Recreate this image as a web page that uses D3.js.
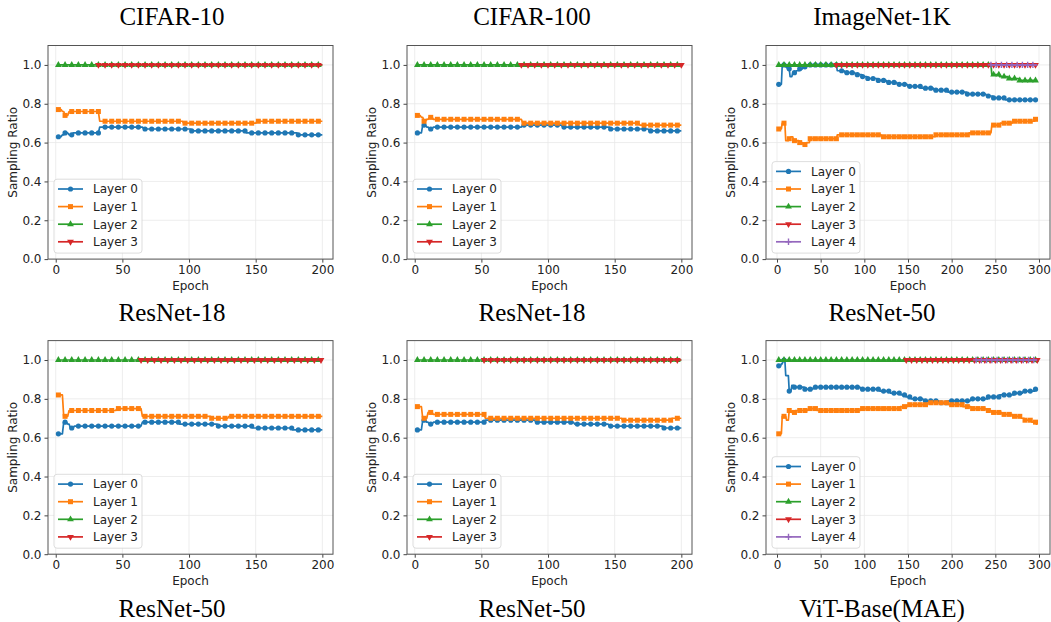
<!DOCTYPE html>
<html>
<head>
<meta charset="utf-8">
<script src="https://cdn.jsdelivr.net/npm/d3@7"></script>
<style>
body { margin: 0; background: #fff; }
text { font-family: "DejaVu Sans", sans-serif; }
</style>
</head>
<body>
<svg id="fig" width="1051" height="622"></svg>
<script>
// step runs: [first epoch, sampling ratio], value holds until the next run starts
const c10r18_l0 = [[2,.63],[5,.64],[7,.65],[10,.64],[13,.65],[33,.68],[66,.67],[102,.66],[143,.65],[182,.64]]
const c10r18_l1 = [[2,.77],[5,.76],[7,.74],[10,.76],[33,.71],[96,.70],[151,.71]]
const c10r18_l2 = [[2,1.0]]
const c10r18_l3 = [[32,1.0]]

const c100r18_l0 = [[2,.65],[6,.69],[9,.68],[11,.67],[14,.68],[81,.69],[111,.68],[147,.67],[176,.66]]
const c100r18_l1 = [[2,.74],[5,.73],[7,.71],[9,.72],[11,.73],[14,.72],[81,.70],[169,.69]]
const c100r18_l2 = [[2,1.0]]
const c100r18_l3 = [[80,1.0]]

const in1kr50_l0 = [[2,.90],[6,1.0],[10,.99],[12,.98],[15,.94],[18,.96],[22,.97],[26,.98],[30,.99],[34,1.0],
  [69,.97],[78,.96],[90,.95],[98,.94],[104,.93],[116,.92],[126,.91],[138,.90],[150,.89],[165,.88],
  [180,.87],[196,.86],[218,.85],[240,.84],[248,.83],[262,.82]]
const in1kr50_l1 = [[2,.67],[6,.70],[10,.61],[14,.62],[16,.63],[19,.61],[26,.60],[30,.59],[34,.60],[38,.62],
  [69,.64],[120,.63],[182,.64],[220,.65],[246,.69],[256,.70],[270,.71],[296,.72]]
const in1kr50_l2 = [[2,1.0],[246,.95],[255,.94],[265,.93],[278,.92]]
const in1kr50_l3 = [[68,1.0]]
const in1kr50_l4 = [[245,1.0]]

const c10r50_l0 = [[2,.62],[6,.68],[9,.67],[11,.65],[14,.66],[65,.68],[93,.67],[122,.66],[148,.65],[178,.64]]
const c10r50_l1 = [[2,.82],[6,.71],[10,.74],[46,.75],[65,.71],[117,.70],[130,.71]]
const c10r50_l2 = [[2,1.0]]
const c10r50_l3 = [[64,1.0]]

const c100r50_l0 = [[2,.64],[6,.69],[9,.68],[11,.67],[14,.68],[53,.69],[91,.68],[120,.67],[146,.66],[187,.65]]
const c100r50_l1 = [[2,.76],[6,.70],[10,.73],[14,.72],[53,.70],[156,.69],[193,.70]]
const c100r50_l2 = [[2,1.0]]
const c100r50_l3 = [[52,1.0]]

const vitmae_l0 = [[2,.97],[5,.98],[7,1.0],[10,.92],[14,.84],[17,.87],[20,.86],[32,.85],[42,.86],[96,.85],
  [118,.84],[130,.83],[142,.82],[148,.81],[154,.80],[168,.79],[186,.78],[196,.79],[222,.80],[242,.81],
  [255,.82],[272,.83],[282,.84],[296,.85]]
const vitmae_l1 = [[2,.62],[6,.71],[11,.69],[14,.74],[17,.73],[21,.74],[36,.75],[46,.74],[96,.75],[141,.76],
  [150,.77],[173,.78],[197,.77],[213,.76],[223,.75],[240,.74],[246,.73],[258,.72],[270,.71],[280,.70],
  [284,.69],[292,.68],[297,.67]]
const vitmae_l2 = [[2,1.0],[297,.99]]
const vitmae_l3 = [[148,1.0]]
const vitmae_l4 = [[228,1.0]]

const datasets = ["CIFAR-10", "CIFAR-100", "ImageNet-1K"]
const models = [["ResNet-18", "ResNet-18", "ResNet-50"], ["ResNet-50", "ResNet-50", "ViT-Base(MAE)"]]
const layerNames = ["Layer 0", "Layer 1", "Layer 2", "Layer 3", "Layer 4"]
const layerColors = ["#1f77b4", "#ff7f0e", "#2ca02c", "#d62728", "#9467bd"]
const yTicks = [0, 0.2, 0.4, 0.6, 0.8, 1.0]
const xTicks200 = [0, 50, 100, 150, 200]
const xTicks300 = [0, 50, 100, 150, 200, 250, 300]

const panels = [
  { row: 0, col: 0, end: 200, series: [c10r18_l0, c10r18_l1, c10r18_l2, c10r18_l3] },
  { row: 0, col: 1, end: 200, series: [c100r18_l0, c100r18_l1, c100r18_l2, c100r18_l3] },
  { row: 0, col: 2, end: 298, series: [in1kr50_l0, in1kr50_l1, in1kr50_l2, in1kr50_l3, in1kr50_l4] },
  { row: 1, col: 0, end: 200, series: [c10r50_l0, c10r50_l1, c10r50_l2, c10r50_l3] },
  { row: 1, col: 1, end: 200, series: [c100r50_l0, c100r50_l1, c100r50_l2, c100r50_l3] },
  { row: 1, col: 2, end: 298, series: [vitmae_l0, vitmae_l1, vitmae_l2, vitmae_l3, vitmae_l4] },
]

const svg = d3.select("#fig")
const colLeft = [48, 407, 766]
const colCenter = [172, 532, 882]
const rowTop = [45.5, 340.6]
const plotW = 285, plotH = 213.6
const fs = "12px"

const expand = (runs, end) => {
  const pts = []
  runs.forEach((r, i) => {
    const stop = i < runs.length - 1 ? runs[i + 1][0] : end + 1
    for (let e = r[0]; e < stop; e++) pts.push({ e, v: r[1] })
  })
  return pts
}

const drawMarker = (g, k, color) => {
  if (k === 0) {
    g.append("circle").attr("r", 2.6).attr("fill", color)
  } else if (k === 1) {
    g.append("rect").attr("x", -2.5).attr("y", -2.5).attr("width", 5).attr("height", 5).attr("fill", color)
  } else if (k === 2) {
    g.append("path").attr("d", d3.symbol().type(d3.symbolTriangle).size(20)()).attr("fill", color)
  } else if (k === 3) {
    g.append("path").attr("d", d3.symbol().type(d3.symbolTriangle).size(20)())
      .attr("transform", "rotate(180)").attr("fill", color)
  } else {
    g.append("path").attr("d", "M-3.2,0H3.2M0,-3.2V3.2").attr("stroke", color).attr("stroke-width", 1.4)
  }
}

panels.forEach(p => {
  const left = colLeft[p.col], top = rowTop[p.row]
  const w = p.col === 2 ? plotW - 1 : plotW
  const x = d3.scaleLinear()
    .domain(p.end > 200 ? [-12.6, 312.6] : [-5.8, 208])
    .range([left, left + w])
  const y = d3.scaleLinear().domain([0, 1.1]).range([top + plotH, top])
  const xTicks = p.end > 200 ? xTicks300 : xTicks200
  const step = p.end > 200 ? 6 : 5
  const g = svg.append("g")

  // grid
  g.append("g").selectAll("line").data(yTicks).enter().append("line")
    .attr("x1", left).attr("x2", left + w)
    .attr("y1", d => y(d)).attr("y2", d => y(d))
    .attr("stroke", "#e8e8e8").attr("stroke-width", 0.8)
  g.append("g").selectAll("line").data(xTicks).enter().append("line")
    .attr("x1", d => x(d)).attr("x2", d => x(d))
    .attr("y1", top).attr("y2", top + plotH)
    .attr("stroke", "#e8e8e8").attr("stroke-width", 0.8)

  // axes
  const ax = g.append("g").attr("transform", `translate(0,${top + plotH})`)
    .call(d3.axisBottom(x).tickValues(xTicks).tickSize(3.5).tickPadding(3))
  const ay = g.append("g").attr("transform", `translate(${left},0)`)
    .call(d3.axisLeft(y).tickValues(yTicks).tickFormat(d3.format(".1f")).tickSize(3.5).tickPadding(3))
  ;[ax, ay].forEach(a => {
    a.select(".domain").remove()
    a.selectAll("line").attr("stroke", "#444")
    a.selectAll("text").attr("fill", "#222").style("font-size", fs)
      .style("font-family", '"DejaVu Sans", sans-serif')
  })

  g.append("text").attr("x", left + w / 2).attr("y", top + plotH + 31)
    .attr("text-anchor", "middle").style("font-size", fs).attr("fill", "#222").text("Epoch")
  g.append("text").attr("transform", `translate(${left - 31},${top + plotH / 2}) rotate(-90)`)
    .attr("text-anchor", "middle").style("font-size", fs).attr("fill", "#222").text("Sampling Ratio")

  // series
  const line = d3.line().x(d => x(d.e)).y(d => y(d.v))
  p.series.forEach((runs, k) => {
    const pts = expand(runs, p.end)
    const sg = g.append("g")
    sg.append("path").datum(pts).attr("d", line)
      .attr("fill", "none").attr("stroke", layerColors[k]).attr("stroke-width", 1.7)
      .attr("stroke-linejoin", "round")
    sg.selectAll("g.mk").data(pts.filter((d, i) => i % step === 0)).enter().append("g")
      .attr("class", "mk").attr("transform", d => `translate(${x(d.e)},${y(d.v)})`)
      .each(function () { drawMarker(d3.select(this), k, layerColors[k]) })
  })

  // legend
  const n = p.series.length
  const lh = 17.6
  const boxH = n * lh + 3.5
  const lx = left + 6, ly = top + plotH - 6 - boxH
  const lg = g.append("g").attr("transform", `translate(${lx},${ly})`)
  lg.append("rect").attr("width", 88).attr("height", boxH).attr("rx", 3)
    .attr("fill", "#fff").attr("fill-opacity", 0.85).attr("stroke", "#d4d4d4").attr("stroke-width", 0.8)
  p.series.forEach((s, k) => {
    const cy = 9.8 + k * lh
    lg.append("line").attr("x1", 4).attr("x2", 29).attr("y1", cy).attr("y2", cy)
      .attr("stroke", layerColors[k]).attr("stroke-width", 1.7)
    drawMarker(lg.append("g").attr("transform", `translate(16.5,${cy})`), k, layerColors[k])
    lg.append("text").attr("x", 39).attr("y", cy).attr("dy", "0.36em")
      .style("font-size", fs).attr("fill", "#222").text(layerNames[k])
  })

  // frame
  g.append("rect").attr("x", left).attr("y", top).attr("width", w).attr("height", plotH)
    .attr("fill", "none").attr("stroke", "#555").attr("stroke-width", 1)
})

// column titles and row captions
const serif = '"Liberation Serif", "Times New Roman", serif'
svg.selectAll("text.ds").data(datasets).enter().append("text").attr("class", "ds")
  .attr("x", (d, i) => colCenter[i]).attr("y", 25).attr("text-anchor", "middle")
  .style("font-family", serif).style("font-size", "25px").attr("fill", "#000").text(d => d)
models.forEach((row, r) => {
  svg.selectAll(`text.m${r}`).data(row).enter().append("text").attr("class", `m${r}`)
    .attr("x", (d, i) => colCenter[i]).attr("y", r === 0 ? 321 : 617).attr("text-anchor", "middle")
    .style("font-family", serif).style("font-size", "25px").attr("fill", "#000").text(d => d)
})
</script>
</body>
</html>
